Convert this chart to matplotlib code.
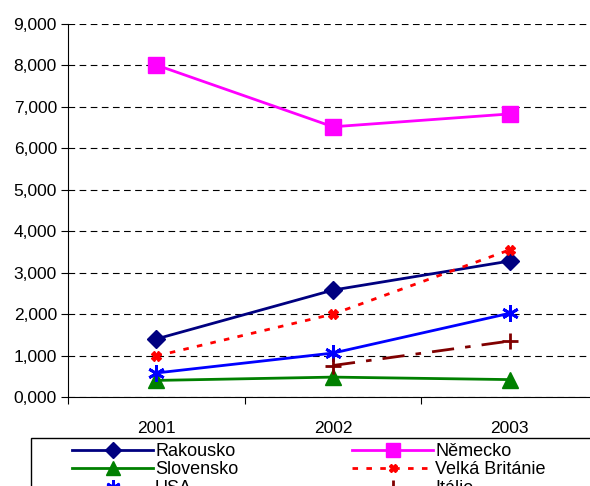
import matplotlib.pyplot as plt
import numpy as np
from matplotlib.ticker import FuncFormatter
from matplotlib.patches import Rectangle

plt.rcParams['font.family'] = ['Liberation Sans', 'DejaVu Sans']

years = ['2001', '2002', '2003']
rakousko = [1400, 2580, 3280]
nemecko = [8010, 6520, 6830]
slovensko = [400, 480, 420]
velka_britanie = [990, 2000, 3550]
usa = [580, 1060, 2020]
italie = [np.nan, 760, 1350]

W, H = 590, 486
fig = plt.figure(figsize=(W/100, H/100), dpi=100)
ax = fig.add_axes([68/W, 1 - 397/H, 530/W, 373/H])

x = np.arange(len(years))

ax.plot(x, rakousko, color='#000080', lw=2, marker='D', ms=9, label='Rakousko')
ax.plot(x, nemecko, color='#ff00ff', lw=2, marker='s', ms=12, label='Německo')
ax.plot(x, slovensko, color='#008000', lw=2, marker='^', ms=12, label='Slovensko')
ax.plot(x, velka_britanie, color='#ff0000', lw=2, ls=(0, (2, 3)), marker='X', ms=7,
        label='Velká Británie')
ax.plot(x, usa, color='#0000ff', lw=2, marker=(6, 2, 0), ms=12, mew=2, label='USA')
ax.plot(x, italie, color='#800000', lw=2, ls=(0, (8, 4, 2, 4)), marker='+', ms=12, mew=2,
        label='Itálie')

ax.set_xlim(-0.5, 2.5)
ax.set_ylim(0, 9000)
ax.set_yticks(np.arange(0, 9001, 1000))
ax.yaxis.set_major_formatter(FuncFormatter(lambda v, p: f'{v/1000:.3f}'.replace('.', ',')))
ax.set_xticks([-0.5, 0.5, 1.5, 2.5])
ax.set_xticklabels([])
ax.set_xticks(x, minor=True)
ax.set_xticklabels(years, minor=True)
ax.tick_params(axis='x', which='minor', length=0, pad=17, labelsize=12.5)
ax.tick_params(axis='x', which='major', length=5, direction='out')
ax.tick_params(axis='y', length=5, labelsize=12.5, pad=3)

ax.grid(axis='y', color='black', ls=(0, (6, 4)), lw=0.8)
ax.set_axisbelow(True)
for s in ['top', 'right']:
    ax.spines[s].set_visible(False)

# legend frame runs past the right and bottom edges, like the original
fig.add_artist(Rectangle((31/W, 1 - 520/H), 600/W, 82/H, transform=fig.transFigure,
                         facecolor='white', edgecolor='black', lw=1))

handles, labels = ax.get_legend_handles_labels()
order = [0, 2, 4, 1, 3, 5]
leg = fig.legend([handles[i] for i in order], [labels[i] for i in order],
                 loc='upper left', bbox_to_anchor=(72/W, 1 - 443/H), ncol=2,
                 frameon=False, fontsize=13, borderpad=0, borderaxespad=0,
                 handlelength=4.5, handletextpad=0.1, columnspacing=6.3,
                 labelspacing=0.08, markerscale=0.85)

fig.savefig('out.png', dpi=100)
